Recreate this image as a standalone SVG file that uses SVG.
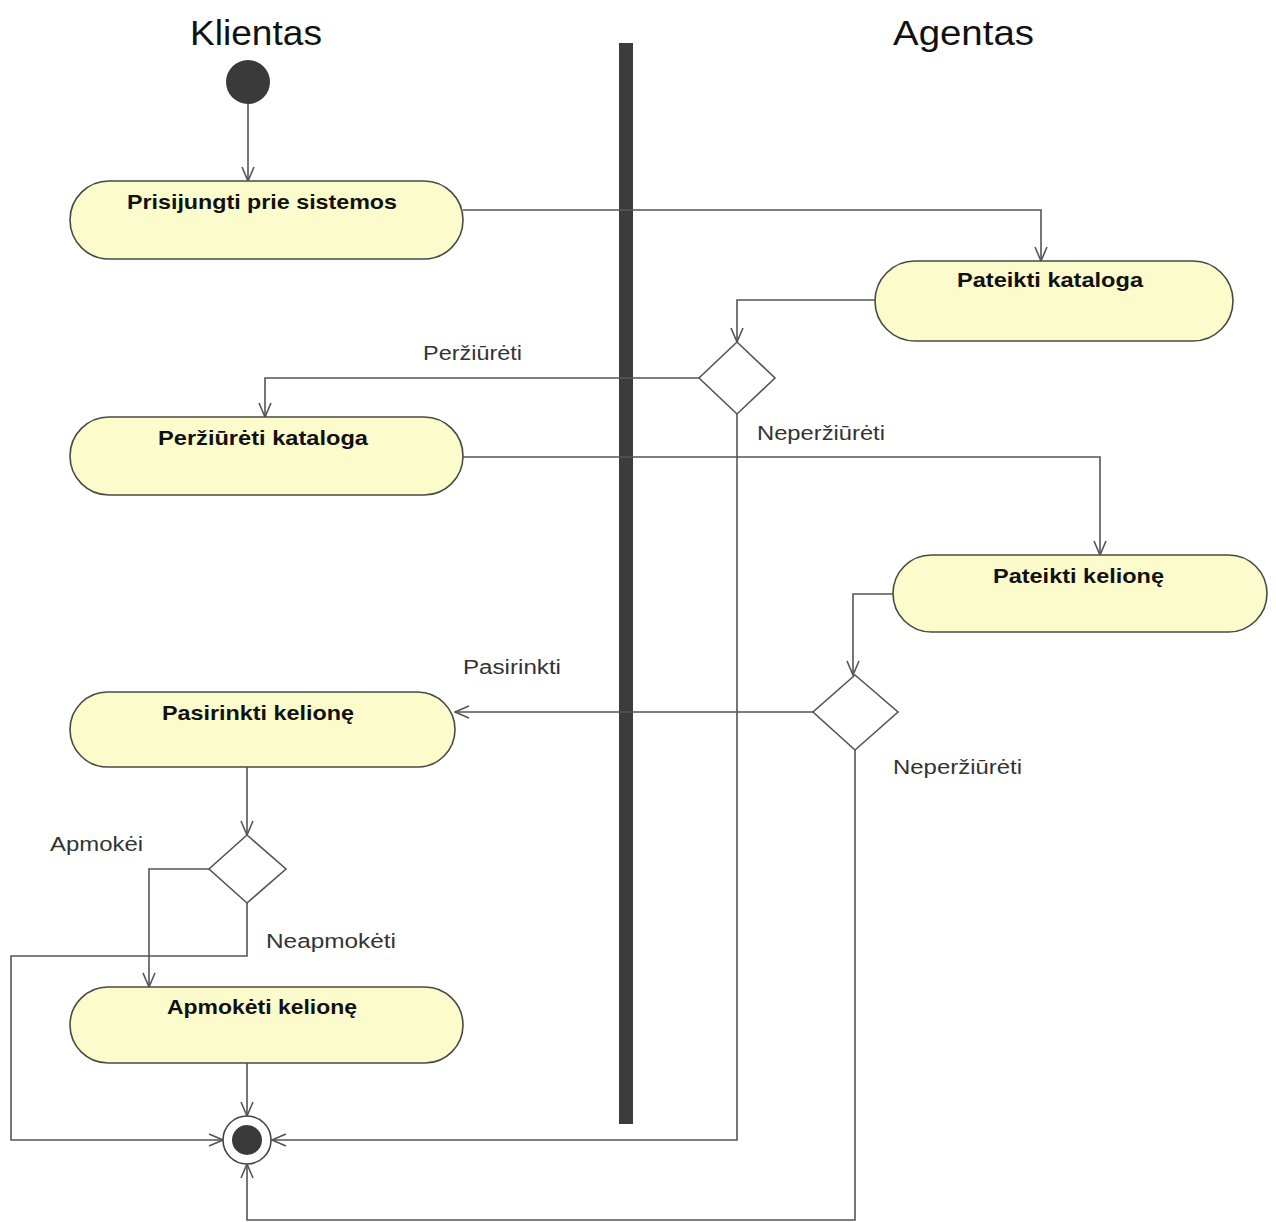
<svg xmlns="http://www.w3.org/2000/svg" width="1276" height="1222" viewBox="0 0 1276 1222">
<defs>
<style>
.node rect{fill:#fbfbcb;stroke:#4a4a44;stroke-width:1.6}
.dia{fill:#fff;stroke:#555;stroke-width:1.6}
.ntext{font-family:"Liberation Sans",Arial,sans-serif;font-weight:bold;font-size:21px;fill:#111;}
.lbl{font-family:"Liberation Sans",Arial,sans-serif;font-size:20px;fill:#333;}
.title{font-family:"Liberation Sans",Arial,sans-serif;font-size:35px;fill:#111;}
#connectors path{fill:none;stroke:#555;stroke-width:1.6}
</style>
<marker id="arr" viewBox="0 0 16 16" refX="15" refY="8" markerWidth="16" markerHeight="16" markerUnits="userSpaceOnUse" orient="auto">
<path d="M1,2 L15,8 L1,14" fill="none" stroke="#555" stroke-width="1.6"/>
</marker>
</defs>
<rect width="1276" height="1222" fill="#fff"/>
<g id="titles">
<text class="title" x="190" y="45" textLength="132" lengthAdjust="spacingAndGlyphs">Klientas</text>
<text class="title" x="893" y="45" textLength="141" lengthAdjust="spacingAndGlyphs">Agentas</text>
</g>
<rect id="swimlane-divider" x="619" y="43" width="14" height="1081" fill="#3c3c3c"/>
<g id="connectors">
<path d="M248,104 L248,181" marker-end="url(#arr)"/>
<path d="M463,210 L1041,210 L1041,261" marker-end="url(#arr)"/>
<path d="M875,300 L737,300 L737,342" marker-end="url(#arr)"/>
<path d="M699,378 L265,378 L265,417" marker-end="url(#arr)"/>
<path d="M737,414 L737,1140 L272,1140" marker-end="url(#arr)"/>
<path d="M463,457 L1100,457 L1100,555" marker-end="url(#arr)"/>
<path d="M893,594 L853,594 L853,675" marker-end="url(#arr)"/>
<path d="M813,712 L455,712" marker-end="url(#arr)"/>
<path d="M855,750 L855,1220 L247,1220 L247,1164" marker-end="url(#arr)"/>
<path d="M247,767 L247,835" marker-end="url(#arr)"/>
<path d="M209,869 L149,869 L149,987" marker-end="url(#arr)"/>
<path d="M247,903 L247,956 L11,956 L11,1140 L223,1140" marker-end="url(#arr)"/>
<path d="M247,1063 L247,1116" marker-end="url(#arr)"/>
</g>
<g id="start"><circle cx="248" cy="82" r="22" fill="#3a3a3a"/></g>
<g id="n1" class="node"><rect x="70" y="181" width="393" height="78" rx="39"/><text class="ntext" x="127" y="209" textLength="270" lengthAdjust="spacingAndGlyphs">Prisijungti prie sistemos</text></g>
<g id="n2" class="node"><rect x="875" y="261" width="358" height="80" rx="40"/><text class="ntext" x="957" y="287" textLength="186" lengthAdjust="spacingAndGlyphs">Pateikti kataloga</text></g>
<g id="d1"><polygon class="dia" points="737,342 775,378 737,414 699,378"/></g>
<g id="n3" class="node"><rect x="70" y="417" width="393" height="78" rx="39"/><text class="ntext" x="158" y="445" textLength="210" lengthAdjust="spacingAndGlyphs">Peržiūrėti kataloga</text></g>
<g id="n4" class="node"><rect x="893" y="555" width="374" height="77" rx="38.5"/><text class="ntext" x="993" y="583" textLength="171" lengthAdjust="spacingAndGlyphs">Pateikti kelionę</text></g>
<g id="d2"><polygon class="dia" points="855,675 898,712 855,750 813,712"/></g>
<g id="n5" class="node"><rect x="70" y="692" width="385" height="75" rx="37.5"/><text class="ntext" x="162" y="720" textLength="192" lengthAdjust="spacingAndGlyphs">Pasirinkti kelionę</text></g>
<g id="d3"><polygon class="dia" points="247,835 286,869 247,903 209,869"/></g>
<g id="n6" class="node"><rect x="70" y="987" width="393" height="76" rx="38"/><text class="ntext" x="167" y="1014" textLength="190" lengthAdjust="spacingAndGlyphs">Apmokėti kelionę</text></g>
<g id="final"><circle cx="247" cy="1140" r="24" fill="#fff" stroke="#444" stroke-width="1.6"/><circle cx="247" cy="1140" r="15" fill="#3a3a3a"/></g>
<g id="labels">
<text class="lbl" x="423" y="360" textLength="99" lengthAdjust="spacingAndGlyphs">Peržiūrėti</text>
<text class="lbl" x="757" y="440" textLength="128" lengthAdjust="spacingAndGlyphs">Neperžiūrėti</text>
<text class="lbl" x="463" y="674" textLength="98" lengthAdjust="spacingAndGlyphs">Pasirinkti</text>
<text class="lbl" x="893" y="774" textLength="129" lengthAdjust="spacingAndGlyphs">Neperžiūrėti</text>
<text class="lbl" x="50" y="851" textLength="93" lengthAdjust="spacingAndGlyphs">Apmokėi</text>
<text class="lbl" x="266" y="948" textLength="130" lengthAdjust="spacingAndGlyphs">Neapmokėti</text>
</g>
</svg>
